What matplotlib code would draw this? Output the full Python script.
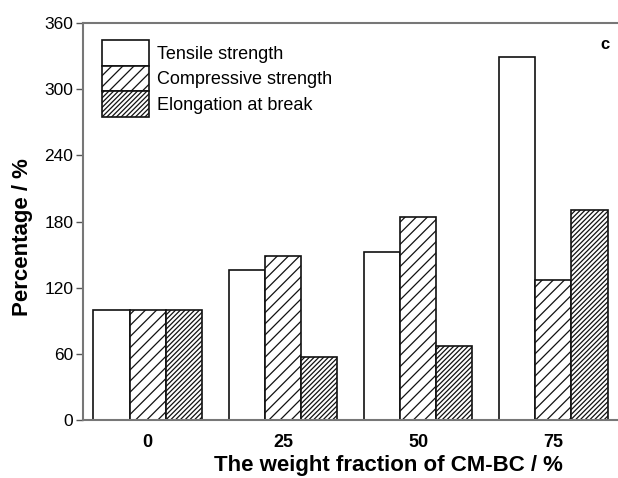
"""Bar chart: tensile, compressive and elongation percentages vs CM-BC fraction."""

import matplotlib

matplotlib.use("Agg")
import matplotlib.pyplot as plt  # noqa: E402
import numpy as np  # noqa: E402

fractions = ["0", "25", "50", "75"]
tensile = [100, 136, 152, 329]
compressive = [100, 149, 184, 127]
elongation = [100, 57, 67, 190]
series_labels = ["Tensile strength", "Compressive strength", "Elongation at break"]
y_ticks = [0, 60, 120, 180, 240, 300, 360]

plt.rcParams["font.family"] = ["Liberation Sans", "DejaVu Sans"]
plt.rcParams["hatch.color"] = "#333333"
plt.rcParams["hatch.linewidth"] = 0.9

fig = plt.figure(figsize=(6.18, 4.78), dpi=100)
ax = fig.add_axes([0.1343, 0.1213, 0.8657, 0.8306])

x = np.arange(len(fractions))
w = 0.267
styles = [dict(hatch=None), dict(hatch="///"), dict(hatch="///////")]
for i, (vals, lab, st) in enumerate(zip([tensile, compressive, elongation], series_labels, styles)):
    ax.bar(x + (i - 1) * w, vals, width=w, color="white", edgecolor="#111111",
           linewidth=1.2, label=lab, **st)

ax.set_xlim(-0.478, 3.478)
ax.set_ylim(0, 360)
ax.set_yticks(y_ticks)
ax.set_xticks(x)
ax.set_xticklabels(fractions, fontweight="bold", fontsize=13)
ax.tick_params(axis="y", direction="out", length=5, width=1, color="#555555", labelsize=12.5, pad=2)
ax.tick_params(axis="x", length=0, pad=10)
for side in ("left", "top", "bottom"):
    ax.spines[side].set_color("#777777")
    ax.spines[side].set_linewidth(1.5)
ax.spines["right"].set_visible(False)

ax.set_ylabel("Percentage / %", fontsize=16, fontweight="bold")
ax.yaxis.set_label_coords(-0.093, 0.461)
ax.set_xlabel("The weight fraction of CM-BC / %", fontsize=16, fontweight="bold")
ax.xaxis.set_label_coords(0.57, -0.088)
ax.xaxis.label.set_va("top")
ax.text(0.976, 0.945, "c", transform=ax.transAxes, fontsize=12, fontweight="bold",
        ha="center", va="center")

ax.legend(loc="upper left", bbox_to_anchor=(0.0224, 0.975), frameon=False, fontsize=13,
          handlelength=2.6, handleheight=1.8, labelspacing=0.0, handletextpad=0.45,
          borderaxespad=0.0)

fig.savefig("out.png", dpi=100)
plt.close(fig)
